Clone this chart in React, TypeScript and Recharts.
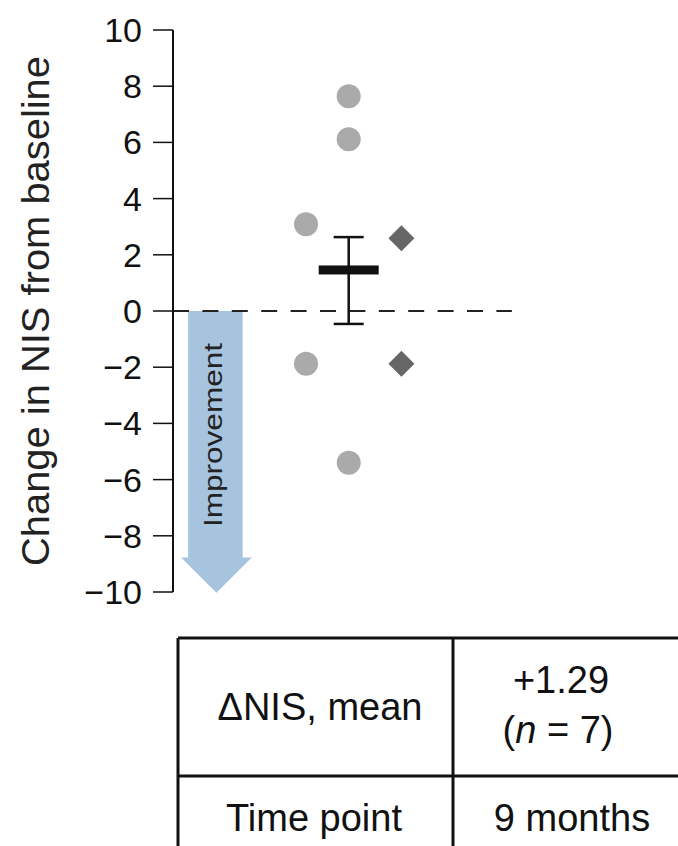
import React from "react";
import {
  ComposedChart,
  Scatter,
  XAxis,
  YAxis,
  ReferenceLine,
  ReferenceArea,
  ErrorBar,
} from "recharts";

// ---- data ----
const yTicks = [-10, -8, -6, -4, -2, 0, 2, 4, 6, 8, 10];
const circleX = [0, 0, -0.85, -0.85, 0];
const circleY = [7.64, 6.11, 3.09, -1.88, -5.4];
const diamondX = [1.05, 1.05];
const diamondY = [2.59, -1.88];
const meanX = [0];
const meanY = [1.46];
const meanErrLow = [1.92];
const meanErrHigh = [1.17];
const yLabel = "Change in NIS from baseline";
const arrowLabel = "Improvement";
const tableRowLabels = ["\u0394NIS, mean", "Time point"];
const tableMean = "+1.29";
const tableN = 7;
const tableTime = "9 months";

const circles = circleX.map((x, i) => ({ x, y: circleY[i] }));
const diamonds = diamondX.map((x, i) => ({ x, y: diamondY[i] }));
const means = meanX.map((x, i) => ({
  x,
  y: meanY[i],
  err: [meanErrLow[i], meanErrHigh[i]],
}));

const FONT = "'Liberation Sans', Arial, Helvetica, sans-serif";

const CircleShape = (p: any) => (
  <circle cx={p.cx} cy={p.cy} r={12} fill="#aaaaaa" />
);
const DiamondShape = (p: any) => {
  const s = 13;
  return (
    <path
      d={`M${p.cx},${p.cy - s} L${p.cx + s},${p.cy} L${p.cx},${p.cy + s} L${p.cx - s},${p.cy} Z`}
      fill="#666666"
    />
  );
};
const MeanShape = (p: any) => (
  <rect x={p.cx - 30} y={p.cy - 4.5} width={60} height={9} fill="#111111" />
);

const ArrowShape = (p: any) => {
  const { x, y, width, height } = p;
  const bodyL = x + width * 0.1;
  const bodyR = x + width * 0.87;
  const headY = y + height * 0.875;
  const tipX = x + width / 2;
  const d = `M${bodyL},${y} L${bodyR},${y} L${bodyR},${headY} L${x + width},${headY} L${tipX},${y + height} L${x},${headY} L${bodyL},${headY} Z`;
  const cx = 213;
  const cy = y + height * 0.44;
  return (
    <g>
      <path d={d} fill="#a7c4df" />
      <text
        x={cx}
        y={cy}
        transform={`rotate(-90, ${cx}, ${cy})`}
        textAnchor="middle"
        dominantBaseline="central"
        fontFamily={FONT}
        fontSize={25}
        fill="#222"
        textLength={184}
        lengthAdjust="spacingAndGlyphs"
      >
        {arrowLabel}
      </text>
    </g>
  );
};

const YLabel = (p: any) => {
  const vb = p.viewBox || {};
  const cy = (vb.y ?? 30) + (vb.height ?? 562) / 2;
  const cx = 36;
  return (
    <text
      x={cx}
      y={cy}
      transform={`rotate(-90, ${cx}, ${cy})`}
      textAnchor="middle"
      dominantBaseline="central"
      fontFamily={FONT}
      fontSize={38}
      fill="#222"
      textLength={510}
      lengthAdjust="spacingAndGlyphs"
    >
      {yLabel}
    </text>
  );
};

const fmt = (v: number) => (v < 0 ? `\u2212${Math.abs(v)}` : `${v}`);

const YTick = (p: any) => {
  const { x, y, payload } = p;
  return (
    <text
      x={x}
      y={y}
      textAnchor="end"
      dominantBaseline="central"
      fontFamily={FONT}
      fontSize={34}
      fill="#111"
    >
      {fmt(payload.value)}
    </text>
  );
};

export default function App() {
  return (
    <div
      style={{
        position: "absolute",
        left: 0,
        top: 0,
        width: 678,
        height: 846,
        background: "#fff",
        overflow: "hidden",
      }}
    >
      <ComposedChart
        width={678}
        height={846}
        margin={{ top: 30, right: 3, bottom: 254, left: 0 }}
      >
        <XAxis
          type="number"
          dataKey="x"
          domain={[-3.5, 6.5]}
          hide
          allowDataOverflow
        />
        <YAxis
          type="number"
          dataKey="y"
          domain={[-10, 10]}
          ticks={yTicks}
          width={173}
          tickSize={20}
          tickMargin={11}
          axisLine={{ stroke: "#111", strokeWidth: 2 }}
          tickLine={{ stroke: "#111", strokeWidth: 1.5 }}
          tick={YTick}
          allowDataOverflow
          label={{ content: YLabel }}
        />
        <ReferenceArea
          x1={-3.34}
          x2={-1.93}
          y1={0}
          y2={-10.03}
          shape={ArrowShape}
          ifOverflow="visible"
        />
        <ReferenceLine
          segment={[
            { x: -3.5, y: 0 },
            { x: 3.25, y: 0 },
          ]}
          stroke="#222"
          strokeWidth={2}
          strokeDasharray="16 13.4"
        />
        <Scatter
          data={circles}
          shape={CircleShape}
          isAnimationActive={false}
        />
        <Scatter
          data={diamonds}
          shape={DiamondShape}
          isAnimationActive={false}
        />
        <Scatter data={means} shape={MeanShape} isAnimationActive={false}>
          <ErrorBar
            dataKey="err"
            direction="y"
            width={15}
            stroke="#111"
            strokeWidth={2.5}
            isAnimationActive={false}
          />
        </Scatter>
      </ComposedChart>
      <svg
        width={678}
        height={846}
        style={{ position: "absolute", left: 0, top: 0, pointerEvents: "none" }}
      >
        <g stroke="#111" strokeWidth={3} fill="none">
          <line x1={178} y1={638} x2={680} y2={638} />
          <line x1={178} y1={776} x2={680} y2={776} />
          <line x1={178} y1={638} x2={178} y2={850} />
          <line x1={453} y1={638} x2={453} y2={850} />
        </g>
        <g fontFamily={FONT} fontSize={38} fill="#111" textAnchor="middle">
          <text x={320} y={720}>{tableRowLabels[0]}</text>
          <text x={314} y={831}>{tableRowLabels[1]}</text>
          <text x={561} y={693}>{tableMean}</text>
          <text x={558} y={743}>
            (<tspan fontStyle="italic">n</tspan> = {tableN})
          </text>
          <text x={572} y={831}>{tableTime}</text>
        </g>
      </svg>
    </div>
  );
}
